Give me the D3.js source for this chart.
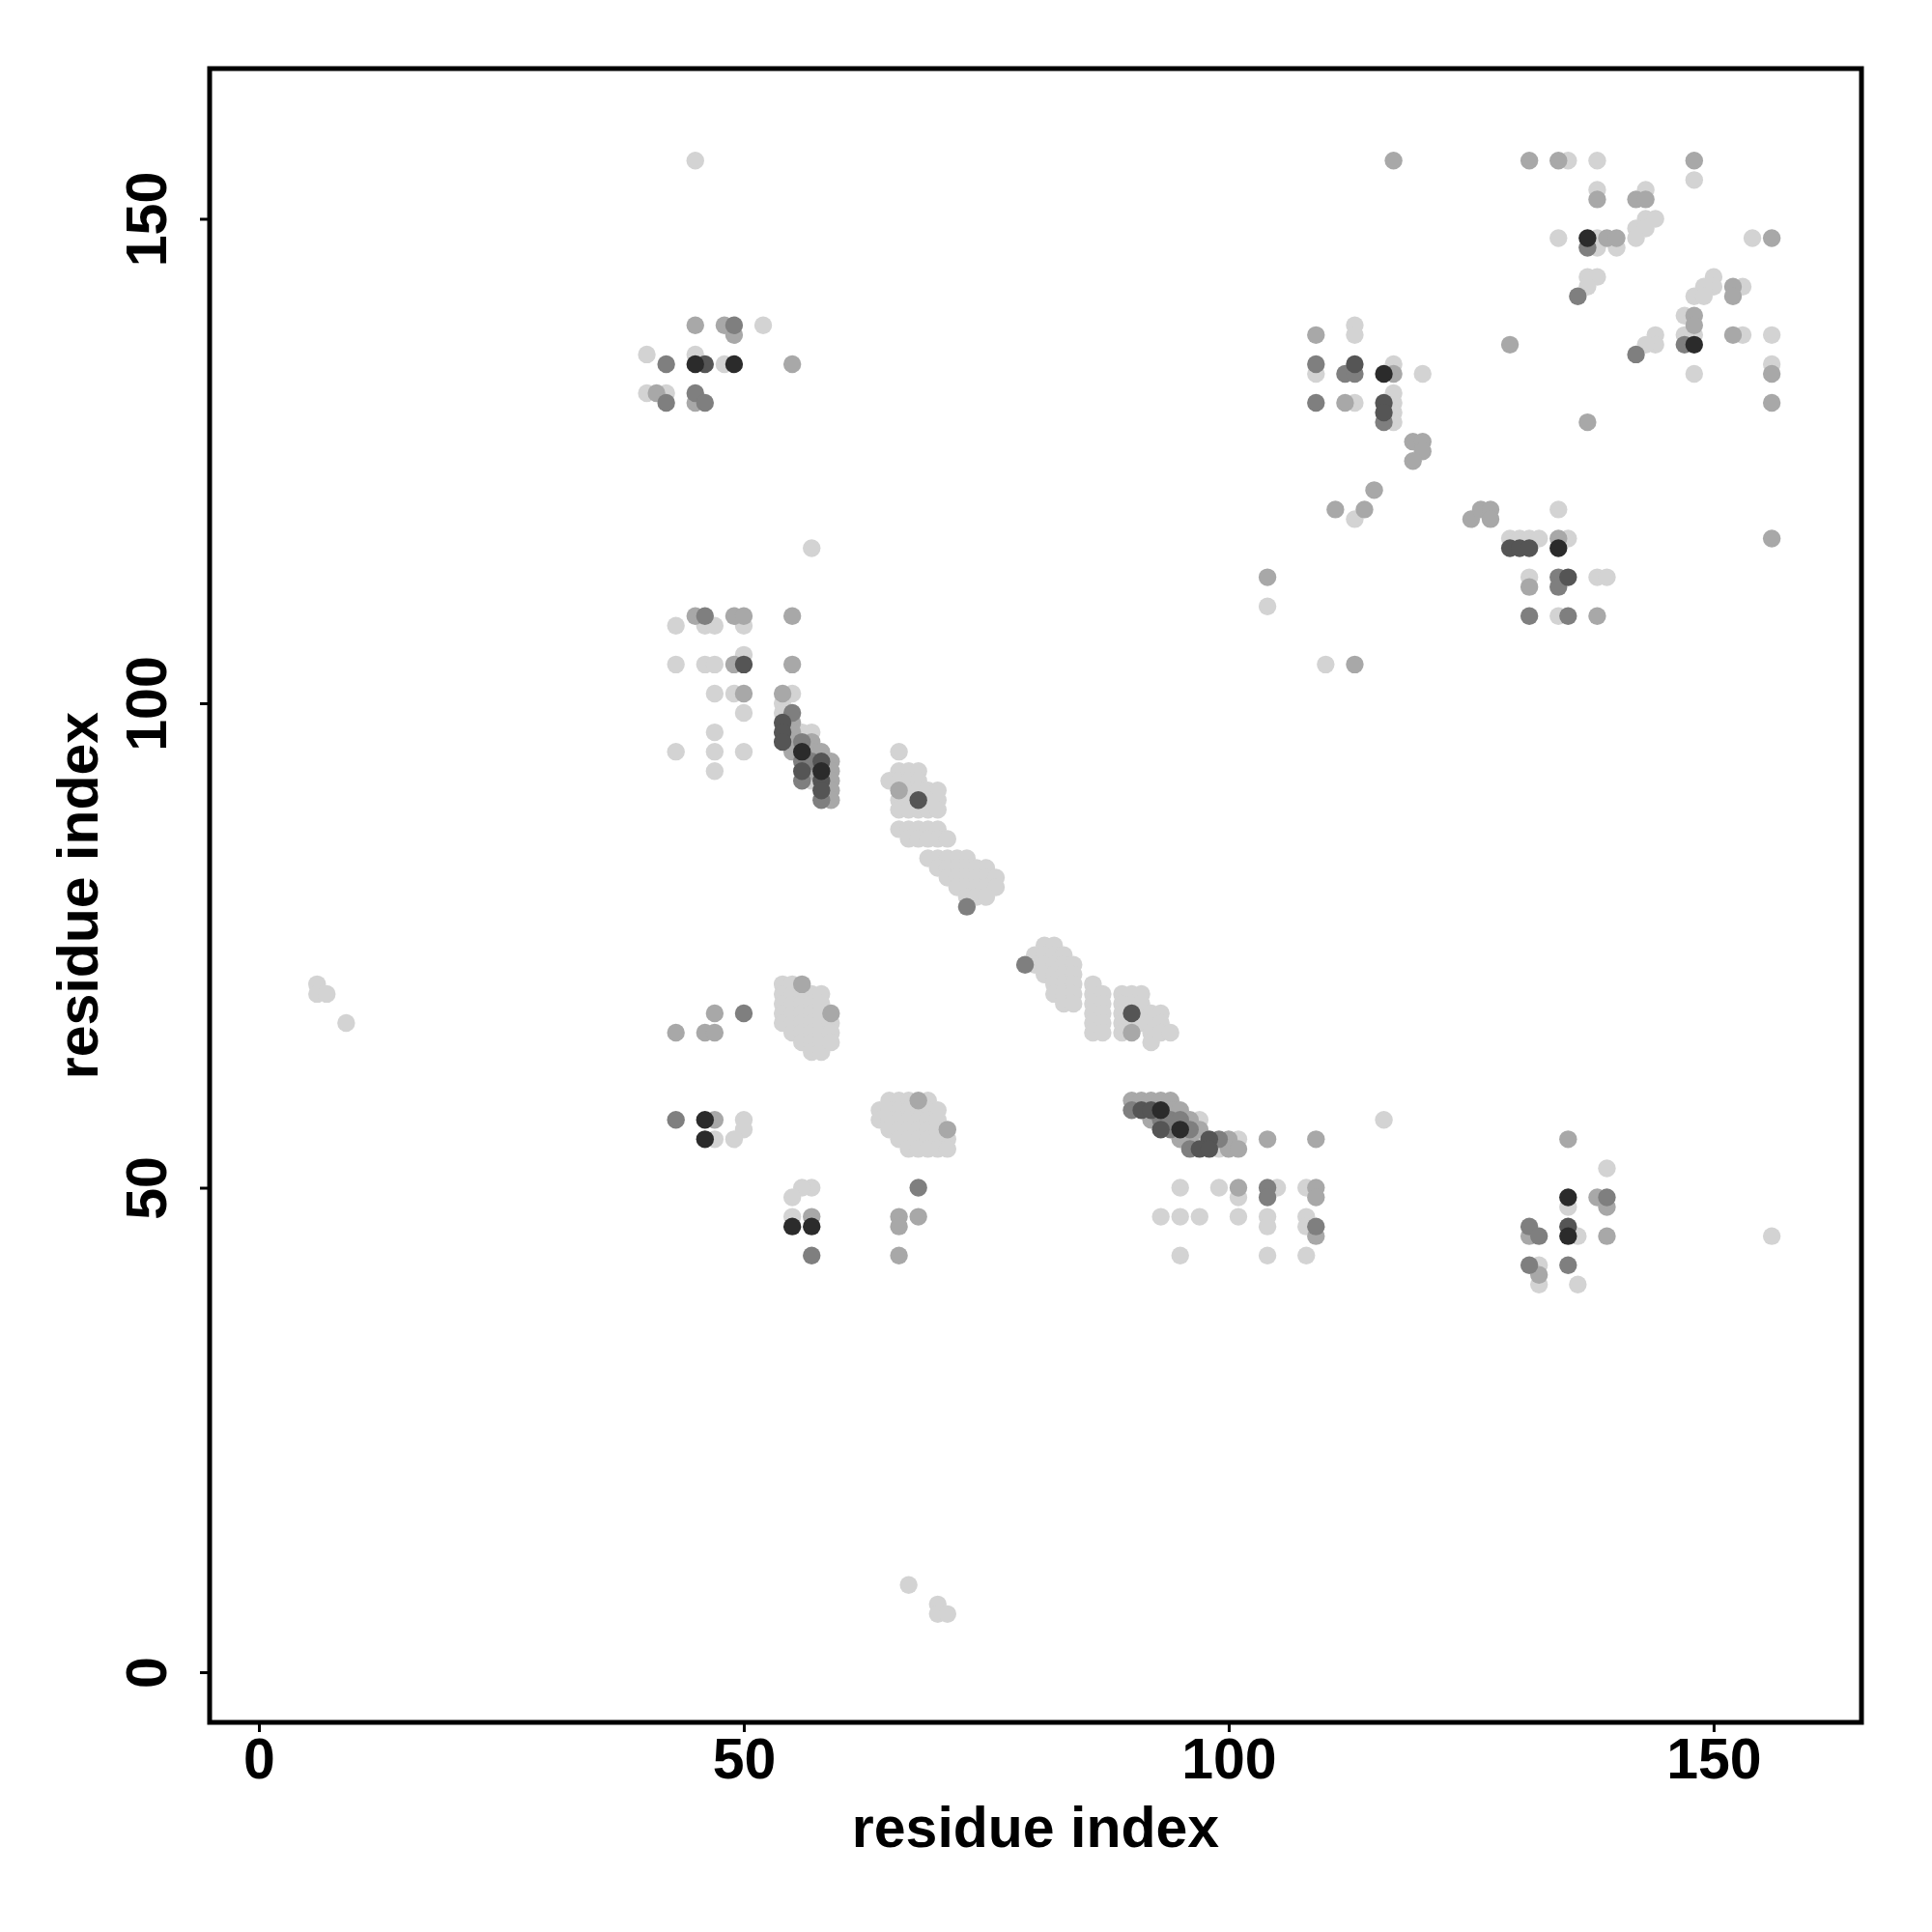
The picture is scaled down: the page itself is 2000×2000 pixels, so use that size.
<!DOCTYPE html>
<html>
<head>
<meta charset="utf-8">
<script src="https://cdn.jsdelivr.net/npm/d3@7"></script>
<style>
  html, body { margin: 0; padding: 0; background: #ffffff; }
  text { font-family: "Liberation Sans", Arial, Helvetica, sans-serif; font-weight: bold; }
</style>
</head>
<body>
<script>
// ---------- data: contact points [residue i, residue j] by shade level ----------
const xTickValues = [0, 50, 100, 150];
const yTickValues = [0, 50, 100, 150];
const xTitle = "residue index";
const yTitle = "residue index";

const shadeLight = [
  [45,156],[52,139],[40,136],[45,136],[48,135],[40,132],[42,132],
  [135,156],[138,156],[148,154],[134,148],[113,139],[113,138],[109,134],[117,135],[120,134],[113,131],
  [117,132],[117,131],[117,130],[117,129],[113,119],[129,117],[130,117],[131,117],[132,117],[135,117],
  [134,120],[131,113],[134,109],[138,113],[139,113],[104,110],[110,104],
  [138,153],[143,153],[143,150],[144,150],[142,149],[143,149],[142,148],[138,148],[138,147],[140,147],
  [154,148],[137,144],[138,144],[137,143],[150,144],[150,143],[149,143],[148,142],[149,142],[153,143],
  [147,140],[144,138],[144,137],[143,137],[147,138],[148,138],[153,138],[156,138],[148,134],[156,135],
  [57,116],[43,108],[46,108],[47,108],[50,108],[50,105],[43,104],[46,104],[47,104],[47,101],[49,101],
  [47,97],[43,95],[47,95],[50,95],[47,93],[50,99],
  [54,100],[54,99],[55,101],[56,97],[57,97],[57,92],
  [66,95],
  [66,93],[67,93],[68,93],
  [65,92],[66,92],[67,92],[68,92],
  [67,91],[68,91],[69,91],[70,91],
  [66,90],[67,90],[69,90],[70,90],
  [66,89],[67,89],[68,89],[69,89],[70,89],
  [66,87],[67,87],[68,87],[69,87],[70,87],
  [67,86],[68,86],[69,86],[70,86],[71,86],
  [69,84],[70,84],[71,84],[72,84],[73,84],
  [70,83],[71,83],[72,83],[73,83],[74,83],[75,83],
  [71,82],[72,82],[73,82],[74,82],[75,82],[76,82],
  [72,81],[73,81],[74,81],[75,81],[76,81],
  [73,80],[74,80],[75,80],
  [81,75],[82,75],
  [80,74],[81,74],[82,74],[83,74],
  [80,73],[81,73],[82,73],[83,73],[84,73],
  [81,72],[82,72],[83,72],[84,72],
  [82,71],[83,71],[84,71],
  [82,70],[83,70],[84,70],
  [83,69],[84,69],
  [86,71],[86,70],[86,69],[86,68],[86,67],[86,66],
  [87,70],[87,69],[87,68],[87,67],[87,66],
  [89,70],[89,69],[89,68],[89,67],[89,66],
  [90,70],[90,69],[90,67],
  [91,70],[91,69],[91,68],[91,67],
  [92,68],[92,67],[92,66],[92,65],
  [93,68],[93,67],[93,66],
  [94,66],
  [97,57],[97,55],[101,55],[99,54],[116,57],
  [95,50],[99,50],[105,50],[108,50],[101,49],
  [93,47],[95,47],[97,47],[101,47],[104,47],[108,47],
  [104,46],[108,46],[95,43],[104,43],[108,43],
  [54,71],[54,70],[54,69],[54,68],[54,67],
  [55,71],[55,70],[55,69],[55,68],[55,67],[55,66],
  [56,70],[56,69],[56,68],[56,67],[56,66],[56,65],
  [57,70],[57,69],[57,68],[57,67],[57,66],[57,65],[57,64],
  [58,70],[58,69],[58,68],[58,67],[58,66],[58,65],[58,64],
  [59,67],[59,66],[59,65],
  [50,57],[50,56],[47,55],[49,55],[57,50],[56,50],[55,49],[55,47],
  [65,59],[66,59],[67,59],[69,59],
  [64,58],[65,58],[66,58],[67,58],[68,58],[69,58],[70,58],
  [64,57],[65,57],[66,57],[67,57],[68,57],[69,57],[70,57],
  [65,56],[66,56],[67,56],[68,56],[69,56],[70,56],
  [66,55],[67,55],[68,55],[69,55],[70,55],[71,55],
  [67,54],[68,54],[69,54],[70,54],[71,54],
  [139,52],[135,48],[136,45],[156,45],[132,42],[132,40],[136,40],
  [6,71],[6,70],[7,70],[9,67],[67,9],[70,7],[70,6],[71,6]
];

const shadeMid = [
  [45,139],[48,139],[49,138],[55,135],[41,132],[45,131],
  [117,156],[131,156],[134,156],[148,156],[109,138],[129,137],[117,134],[112,131],
  [119,127],[120,127],[120,126],[119,125],[115,122],[114,120],[111,120],
  [125,119],[126,120],[127,120],[127,119],[134,117],[131,112],[138,109],[104,113],[113,104],
  [138,152],[142,152],[143,152],[139,148],[140,148],[156,148],[152,143],[152,142],
  [148,140],[148,139],[152,138],[156,134],[156,131],[137,129],[156,117],
  [45,109],[49,109],[50,109],[55,109],[49,104],[55,104],[50,101],
  [54,101],[55,98],[55,97],[55,96],[55,95],[57,96],[57,95],[57,93],[58,95],
  [59,94],[59,93],[59,92],[59,91],[59,90],[66,91],
  [90,66],
  [90,59],[91,59],[92,59],[93,59],[94,59],
  [94,58],[95,58],[92,57],[96,57],[97,56],[95,55],[96,55],[100,55],[104,55],[109,55],
  [100,54],[101,54],
  [101,50],[109,50],[109,49],[109,45],
  [47,68],[43,66],[46,66],[47,66],[56,71],[59,68],[47,57],[57,47],[68,59],[71,56],
  [66,47],[66,46],[68,47],[66,43],
  [135,55],[138,49],[139,48],[131,45],[139,45],[132,41]
];

const shadeDark = [
  [49,139],[42,135],[45,132],[42,131],[46,131],
  [109,135],[112,134],[113,134],[116,129],[109,131],[134,113],[134,112],[131,109],[135,109],
  [137,147],[136,142],[142,136],[147,137],
  [46,109],
  [55,99],[56,96],[56,94],[56,92],[57,94],[58,90],
  [73,79],[79,73],
  [90,58],[93,57],[94,57],[95,57],[94,56],[96,56],[99,55],[96,54],
  [104,50],[104,49],[109,46],
  [50,68],[43,57],[57,43],[68,50],
  [139,49],[131,46],[132,45],[131,42],[135,42]
];

const shadeDarker = [
  [46,135],[113,135],[116,131],[116,130],[129,116],[130,116],[131,116],[135,113],
  [50,104],
  [54,98],[54,97],[54,96],[56,93],[58,94],[58,92],[58,91],
  [68,90],[90,68],
  [91,58],[92,58],[93,56],[98,55],[97,54],[98,54],
  [135,46]
];

const shadeBlack = [
  [45,135],[49,135],[116,134],[134,116],[137,148],[148,137],
  [56,95],[58,93],
  [93,58],[95,56],
  [46,57],[46,55],[55,46],[57,46],
  [135,49],[135,45]
];

const seriesList = [
  { name: "light",  points: shadeLight,  color: "#d3d3d3" },
  { name: "mid",    points: shadeMid,    color: "#a8a8a8" },
  { name: "dark",   points: shadeDark,   color: "#7f7f7f" },
  { name: "darker", points: shadeDarker, color: "#555555" },
  { name: "black",  points: shadeBlack,  color: "#2b2b2b" }
];

// ---------- layout ----------
const W = 2000, H = 2000;
const mLeft = 217, mRight = 1927, mTop = 71, mBottom = 1783;

const svg = d3.select("body").append("svg")
  .attr("width", W).attr("height", H)
  .attr("viewBox", `0 0 ${W} ${H}`);

svg.append("rect").attr("width", W).attr("height", H).attr("fill", "#ffffff");

const x = d3.scaleLinear().domain([-5.08, 165.25]).range([mLeft, mRight]);
const y = d3.scaleLinear().domain([-5.18, 165.5]).range([mBottom, mTop]);

// points
const gPts = svg.append("g");
seriesList.forEach(s => {
  gPts.append("g").attr("class", "series-" + s.name)
    .selectAll("circle")
    .data(s.points)
    .join("circle")
    .attr("cx", d => x(d[0]))
    .attr("cy", d => y(d[1]))
    .attr("r", 9.2)
    .attr("fill", s.color);
});

// x axis
const xAxis = svg.append("g")
  .attr("transform", `translate(0,${mBottom})`)
  .call(d3.axisBottom(x).tickValues(xTickValues).tickSize(10).tickPadding(6).tickFormat(d3.format("d")));
xAxis.select(".domain").remove();
xAxis.selectAll(".tick line").attr("stroke", "#000").attr("stroke-width", 3);
xAxis.selectAll(".tick text")
  .attr("fill", "#000")
  .style("font-size", "59px")
  .style("font-weight", "bold")
  .style("font-family", "'Liberation Sans', Arial, sans-serif");

// y axis
const yAxis = svg.append("g")
  .attr("transform", `translate(${mLeft},0)`)
  .call(d3.axisLeft(y).tickValues(yTickValues).tickSize(10).tickFormat(d3.format("d")));
yAxis.select(".domain").remove();
yAxis.selectAll(".tick line").attr("stroke", "#000").attr("stroke-width", 3);
yAxis.selectAll(".tick text")
  .attr("x", null).attr("dy", null)
  .attr("text-anchor", "middle")
  .attr("transform", "translate(-45,0) rotate(-90)")
  .attr("fill", "#000")
  .style("font-size", "59px")
  .style("font-weight", "bold")
  .style("font-family", "'Liberation Sans', Arial, sans-serif");

// frame
svg.append("rect")
  .attr("x", mLeft).attr("y", mTop)
  .attr("width", mRight - mLeft).attr("height", mBottom - mTop)
  .attr("fill", "none").attr("stroke", "#000").attr("stroke-width", 5);

// titles
svg.append("text")
  .attr("x", (mLeft + mRight) / 2).attr("y", 1912)
  .attr("text-anchor", "middle")
  .style("font-size", "59px")
  .text(xTitle);

svg.append("text")
  .attr("transform", `translate(101,${(mTop + mBottom) / 2}) rotate(-90)`)
  .attr("text-anchor", "middle")
  .style("font-size", "59px")
  .text(yTitle);
</script>
</body>
</html>
